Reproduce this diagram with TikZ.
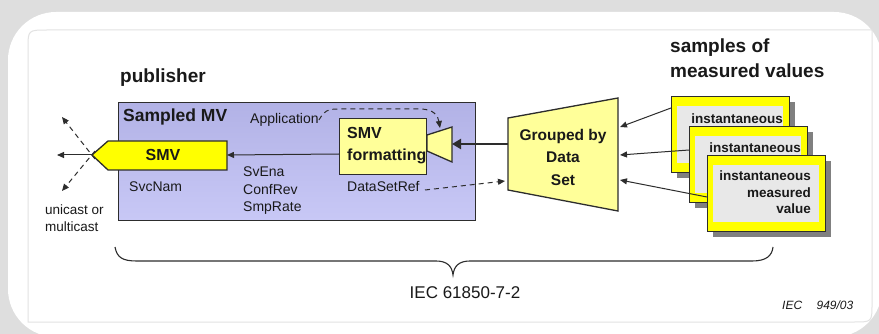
\documentclass[tikz,border=0pt]{standalone}
\usepackage{fontspec}
\setmainfont{Liberation Sans}
\usetikzlibrary{arrows.meta}
\definecolor{bggray}{RGB}{222,222,222}
\definecolor{framegray}{RGB}{226,226,226}
\definecolor{edge}{RGB}{45,45,45}
\definecolor{txt}{RGB}{25,25,25}
\definecolor{lavtop}{RGB}{178,178,230}
\definecolor{lavbot}{RGB}{200,200,246}
\definecolor{paleyel}{RGB}{255,255,153}
\definecolor{brightyel}{RGB}{255,255,0}
\definecolor{innergray}{RGB}{232,232,232}
\definecolor{shadowgray}{RGB}{128,128,128}
\tikzset{
  title/.style={font=\bfseries\fontsize{19}{23}\selectfont, text=txt, inner sep=0pt},
  lbl/.style={font=\fontsize{14}{18}\selectfont, text=txt, inner sep=0pt},
  blbl/.style={font=\bfseries\fontsize{16}{22}\selectfont, text=txt, inner sep=0pt},
  slbl/.style={font=\bfseries\fontsize{13.5}{17}\selectfont, text=txt, inner sep=0pt},
  shapeline/.style={draw=edge, line width=1.3pt},
  conn/.style={draw=edge, line width=1pt, -{Triangle[length=7pt,width=6pt]}},
  dconn/.style={conn, dashed, dash pattern=on 5pt off 4pt},
  sample/.style={draw=edge, line width=1.3pt, fill=brightyel, minimum width=118pt, minimum height=76pt, anchor=north west, inner sep=0pt},
  sampleshadow/.style={fill=shadowgray, minimum width=118pt, minimum height=76pt, anchor=north west, inner sep=0pt},
  sampleinner/.style={fill=innergray, minimum width=106pt, minimum height=57pt, anchor=north west, inner sep=0pt}
}
\begin{document}
\begin{tikzpicture}[x=1pt,y=-1pt]
\useasboundingbox (0,0) rectangle (879,334);
% background card
\fill[bggray] (0,0) rectangle (879,334);
\begin{scope}
\clip (0,0) rectangle (879,334);
\fill[white, rounded corners=48pt] (8,12) rectangle (882,337);
\end{scope}
\draw[framegray, line width=1pt] (28,322) -- (28,48) .. controls (28,30) .. (48,30) -- (872,30) -- (872,304) .. controls (872,322) .. (854,322) -- cycle;

% titles
\node[title, anchor=west] (pub) at (120,78) {publisher};
\node[title, anchor=west] (samp1) at (670,48) {samples of};
\node[title, anchor=west] (samp2) at (670,71) {measured values};

% Sampled MV application box
\node[draw=edge, line width=1.3pt, top color=lavtop, bottom color=lavbot, minimum width=357pt, minimum height=118pt, anchor=north west, inner sep=0pt] (app) at (118,102) {};
\node[font=\bfseries\fontsize{17.5}{20}\selectfont, text=txt, inner sep=0pt, anchor=west] (smvtitle) at (123,117) {Sampled MV};
\node[lbl, anchor=west] (appl) at (250,120) {Application};

% SMV pentagon
\coordinate (tip) at (92,155);
\coordinate (smvR) at (227,155);
\fill[brightyel] (tip) -- (108,141) -- (227,141) -- (227,170) -- (108,170) -- cycle;
\draw[shapeline] (tip) -- (108,141) -- (227,141) -- (227,170) -- (108,170) -- cycle;
\node[blbl] (smv) at (163,155) {SMV};

% outgoing arrows
\coordinate (outL) at (57,155);
\coordinate (outUL) at (62,117);
\coordinate (outDL) at (62,191);
\draw[conn] (tip) -- (outL);
\draw[dconn] (95,159) -- (outUL);
\draw[dconn] (95,151) -- (outDL);
\node[lbl, font=\fontsize{13.5}{17}\selectfont, align=left, anchor=north west] (uni) at (45,205) {unicast or\\multicast};

% labels in app box
\node[lbl, anchor=west] (svc) at (129,187) {SvcNam};
\node[lbl, anchor=north west, align=left, font=\fontsize{14}{17.5}\selectfont] (sven) at (243,167) {SvEna\\ConfRev\\SmpRate};
\node[lbl, anchor=west] (dsr) at (347,187) {DataSetRef};

% SMV formatting box
\node[draw=edge, line width=1.3pt, fill=paleyel, minimum width=87pt, minimum height=56pt, anchor=north west, inner sep=0pt] (fmt) at (339,118) {};
\node[blbl, align=left, anchor=west] (fmttxt) at (347,146) {SMV\\formatting};
% camera
\coordinate (camL) at (427,143);
\coordinate (camR) at (452,144);
\filldraw[fill=paleyel, draw=edge, line width=1.3pt] (427,135) -- (452,127) -- (452,162) -- (427,151) -- cycle;

% Grouped by Data Set
\coordinate (grpL) at (508,144);
\filldraw[fill=paleyel, draw=edge, line width=1.3pt] (508,118) -- (618,98) -- (618,211) -- (508,190) -- cycle;
\node[blbl, align=center, font=\bfseries\fontsize{15.5}{22.5}\selectfont] (grp) at (563,157) {Grouped by\\Data\\Set};

% connectors inside
\draw[conn] (fmt.west |- 0,154) -- (smvR);
\draw[draw=edge, line width=2.6pt, -{Triangle[length=9pt,width=10pt]}] (grpL) -- (camR);
\draw[dconn] (appl.east) .. controls (326,108) and (330,109) .. (345,109) -- (420,109) .. controls (434,109) and (438,116) .. (440,128);
\draw[dconn] (425,190) -- (505,181);

% sample boxes
\node[sampleshadow] (s1sh) at (677,102) {};
\node[sample] (s1) at (671,96) {};
\node[sampleinner] (s1i) at (677,106) {};
\node[slbl, anchor=east] (s1t) at (783,119) {instantaneous};

\node[sampleshadow] (s2sh) at (695,132) {};
\node[sample] (s2) at (689,126) {};
\node[sampleinner] (s2i) at (695,136) {};
\node[slbl, anchor=east] (s2t) at (801,148) {instantaneous};

\node[sampleshadow] (s3sh) at (713,161) {};
\node[sample] (s3) at (707,155) {};
\node[sampleinner] (s3i) at (713,165) {};
\node[slbl, anchor=north east, align=right, font=\bfseries\fontsize{13.5}{16.5}\selectfont] (s3t) at (811,171) {instantaneous\\measured\\value};

\draw[conn] (671,108) -- (620,127);
\draw[conn] (689,150) -- (620,155);
\draw[conn] (707,197) -- (620,180);

% brace
\coordinate (bl) at (115,247);
\coordinate (bm) at (453,275);
\coordinate (br) at (773,247);
\draw[edge, line width=1.1pt] (bl) .. controls (117,258) and (123,261) .. (137,261) -- (436,261) .. controls (447,261) and (452,266) .. (bm) .. controls (454,266) and (459,261) .. (470,261) -- (752,261) .. controls (766,261) and (772,256) .. (br);
\node[lbl, font=\fontsize{17}{20}\selectfont] (iec) at (465,293) {IEC 61850-7-2};
\node[lbl, font=\itshape\fontsize{12}{14}\selectfont, anchor=west] (fig) at (782,305) {IEC\hspace{1.2em}949/03};
\end{tikzpicture}
\end{document}
